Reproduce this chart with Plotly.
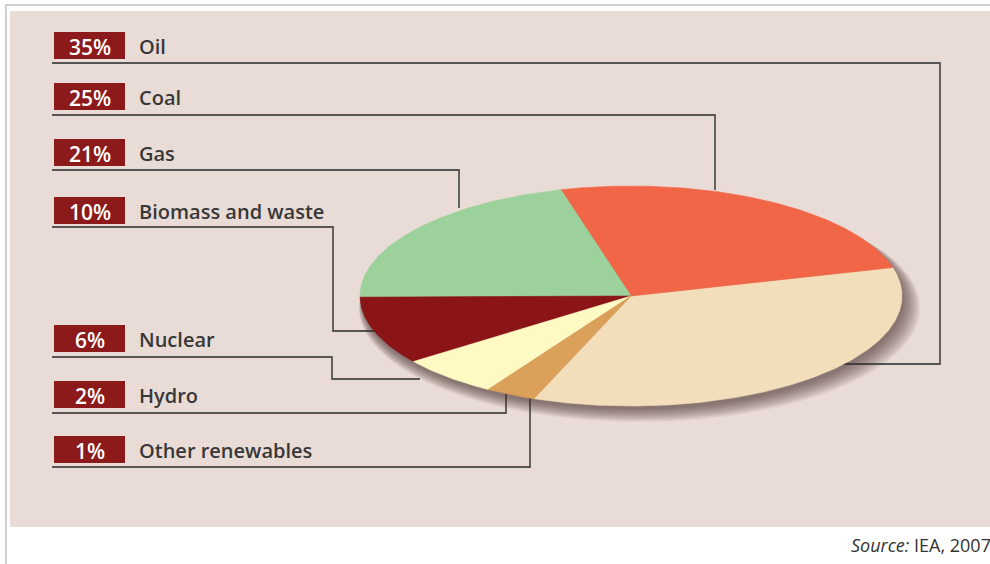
import numpy as np
import plotly.graph_objects as go

# ---- data ----
categories = ["Oil", "Coal", "Gas", "Biomass and waste", "Nuclear", "Hydro", "Other renewables"]
shares = [35, 25, 21, 10, 6, 2, 1]
slice_colors = ["#F3DEBB", "#F26648", "#9DD19B", "#8B1416", "#FFF9C3", "#DBA05A", "#DBA05A"]
source_text = "<i>Source:</i> IEA, 2007"

# ---- layout constants (pixels) ----
W, H = 990, 564
BOX_X0, BOX_X1 = 54, 125
BOX_H = 27
row_tops = [32, 83, 139, 197, 325, 381, 436]
line_ys = [63, 115, 170, 227, 357, 413, 467]
leader_tails = [
    [(940, 63), (940, 364), (841, 364)],
    [(715, 115), (715, 190)],
    [(459, 170), (459, 208)],
    [(333, 227), (333, 331), (375, 331)],
    [(332, 357), (332, 379), (420, 379)],
    [(506, 413), (506, 393)],
    [(530, 467), (530, 398)],
]
PIE_CX, PIE_CY, PIE_A, PIE_B = 631, 296, 271, 110
PAD = 1.15
START_DEG = -111.0

fig = go.Figure()

# soft drop shadow (stacked translucent ellipses)
t = np.linspace(0, 2 * np.pi, 300)
N_SH = 18
for k in range(N_SH):
    f = k / (N_SH - 1)
    s = 1.0 + 0.036 * f
    dx = 0.006 + 0.026 * f
    dy = -0.030 - 0.080 * f
    fig.add_trace(go.Scatter(
        x=s * np.cos(t) + dx, y=s * np.sin(t) + dy, mode="lines", fill="toself",
        fillcolor="rgba(70,55,55,0.045)", line=dict(width=0),
        xaxis="x2", yaxis="y2", hoverinfo="skip", showlegend=False))

# pie slices (ccw from START_DEG)
total = sum(shares)
ang = START_DEG
for name, v, c in zip(categories, shares, slice_colors):
    span = 360.0 * v / total
    th = np.radians(np.linspace(ang, ang + span, max(int(span * 2), 4)))
    xs = np.concatenate([[0], np.cos(th), [0]])
    ys = np.concatenate([[0], np.sin(th), [0]])
    fig.add_trace(go.Scatter(
        x=xs, y=ys, mode="lines", fill="toself", fillcolor=c,
        line=dict(width=0.6, color=c), name=name,
        xaxis="x2", yaxis="y2", hoverinfo="name", showlegend=False))
    ang += span

shapes = []
# page border lines
shapes.append(dict(type="line", x0=5, y0=5, x1=W, y1=5, line=dict(color="#D0D0D0", width=2), xref="x", yref="y", layer="below"))
shapes.append(dict(type="line", x0=6, y0=5, x1=6, y1=H, line=dict(color="#D0D0D0", width=2), xref="x", yref="y", layer="below"))
# panel background
shapes.append(dict(type="rect", x0=10, y0=11, x1=W, y1=527, fillcolor="#E9DBD5", line=dict(width=0), xref="x", yref="y", layer="below"))

annotations = []
for i, (name, v) in enumerate(zip(categories, shares)):
    top = row_tops[i]
    shapes.append(dict(type="rect", x0=BOX_X0, y0=top, x1=BOX_X1, y1=top + BOX_H,
                       fillcolor="#8C1A1B", line=dict(width=0), xref="x", yref="y", layer="below"))
    pts = [(52, line_ys[i])] + leader_tails[i]
    path = "M " + " L ".join(f"{px},{py}" for px, py in pts)
    shapes.append(dict(type="path", path=path, line=dict(color="#555555", width=1.8),
                       xref="x", yref="y", layer="below"))
    annotations.append(dict(x=(BOX_X0 + BOX_X1) / 2, y=top + BOX_H / 2 + 1, xref="x", yref="y",
                            text=f"{v}%", showarrow=False, xanchor="center", yanchor="middle",
                            font=dict(family="Open Sans", size=21, color="white", weight=600)))
    annotations.append(dict(x=137, y=top + BOX_H / 2 + 1, xref="x", yref="y",
                            text=name, showarrow=False, xanchor="left", yanchor="middle",
                            font=dict(family="Open Sans", size=20, color="#383838", weight=600)))

annotations.append(dict(x=W, y=545, xref="x", yref="y", text=source_text, showarrow=False,
                        xanchor="right", yanchor="middle", xshift=3,
                        font=dict(family="Open Sans", size=18, color="#333333")))

px0 = (PIE_CX - PIE_A * PAD) / W
px1 = (PIE_CX + PIE_A * PAD) / W
py0 = 1 - (PIE_CY + PIE_B * PAD) / H
py1 = 1 - (PIE_CY - PIE_B * PAD) / H

fig.update_layout(
    width=W, height=H, margin=dict(l=0, r=0, t=0, b=0),
    paper_bgcolor="white", plot_bgcolor="rgba(0,0,0,0)",
    xaxis=dict(range=[0, W], domain=[0, 1], visible=False, fixedrange=True),
    yaxis=dict(range=[H, 0], domain=[0, 1], visible=False, fixedrange=True),
    xaxis2=dict(range=[-PAD, PAD], domain=[px0, px1], visible=False, anchor="y2", fixedrange=True),
    yaxis2=dict(range=[-PAD, PAD], domain=[py0, py1], visible=False, anchor="x2", fixedrange=True),
    shapes=shapes, annotations=annotations, showlegend=False,
)

fig.write_html("out.html", config={"displayModeBar": False},
               post_script="document.body.style.margin='0';document.body.style.overflow='hidden';")
